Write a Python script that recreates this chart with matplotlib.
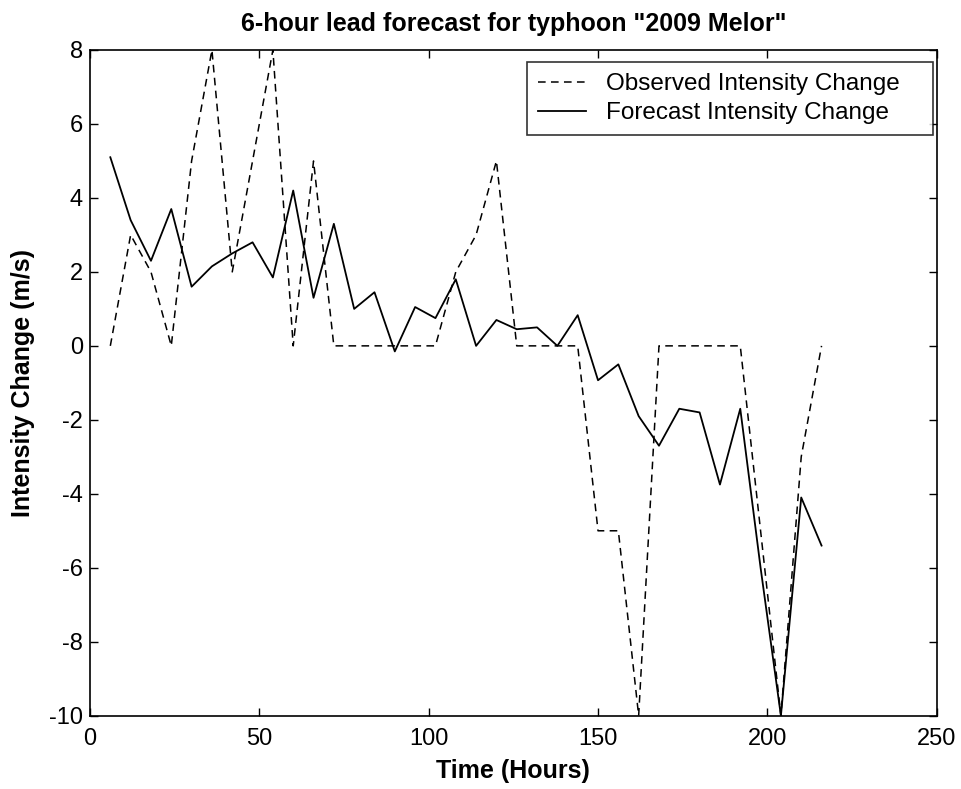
import matplotlib.pyplot as plt
import numpy as np

# lead times (hours) and intensity change (m/s)
hours = np.arange(6, 217, 6)

observed = [0, 3, 2, 0, 5, 8, 2, 5, 8, 0, 5, 0,
            0, 0, 0, 0, 0, 2, 3, 5, 0, 0, 0, 0,
            -5, -5, -10, 0, 0, 0, 0, 0, -5, -10, -3, 0]
forecast = [5.1, 3.4, 2.3, 3.7, 1.6, 2.15, 2.5, 2.8, 1.85, 4.2, 1.3, 3.3,
            1.0, 1.45, -0.15, 1.05, 0.75, 1.8, 0.0, 0.7, 0.45, 0.5, 0.0, 0.83,
            -0.93, -0.5, -1.9, -2.7, -1.7, -1.8, -3.75, -1.7, -6.0, -10.0, -4.1, -5.4]

xticks = [0, 50, 100, 150, 200, 250]
yticks = list(range(-10, 9, 2))

plt.rcParams['font.family'] = ['Liberation Sans', 'DejaVu Sans']
plt.rcParams['axes.unicode_minus'] = False

fig = plt.figure(figsize=(9.61, 7.89), dpi=100)
ax = fig.add_axes([90/961, 1 - 715.7/789, (936.7 - 90)/961, (715.7 - 50)/789])

ax.plot(hours, observed, color='black', lw=1.1, linestyle=(0, (5.0, 3.5)),
        label='Observed Intensity Change')
ax.plot(hours, forecast, color='black', lw=1.3, label='Forecast Intensity Change')

ax.set_xlim(0, 250)
ax.set_ylim(-10, 8)
ax.set_xticks(xticks)
ax.set_yticks(yticks)
ax.tick_params(direction='in', top=True, right=True, length=6, width=1,
               labelsize=17)
ax.tick_params(axis='x', pad=9)
ax.tick_params(axis='y', pad=5)
for s in ax.spines.values():
    s.set_linewidth(1.2)

ax.set_title('6-hour lead forecast for typhoon "2009 Melor"',
             family=['Liberation Sans Narrow', 'Liberation Sans'],
             fontweight='bold', fontsize=18, pad=14)
ax.set_xlabel('Time (Hours)', fontweight='bold', fontsize=18, labelpad=6)
ax.set_ylabel('Intensity Change (m/s)', fontweight='bold', fontsize=18, labelpad=10)

# legend box placed where the reference has it (527..933 px wide, 62..133 px tall)
leg = ax.legend(loc='upper left', bbox_to_anchor=(0.516, 0.875, 0.4795, 0.1067),
                mode='expand', borderaxespad=0,
                fontsize=17.5, frameon=True, fancybox=False,
                edgecolor='black', handlelength=2.0, handletextpad=0.8,
                borderpad=0.45, labelspacing=0.3)
leg.get_frame().set_linewidth(1.2)

fig.savefig('out.png', dpi=100)
